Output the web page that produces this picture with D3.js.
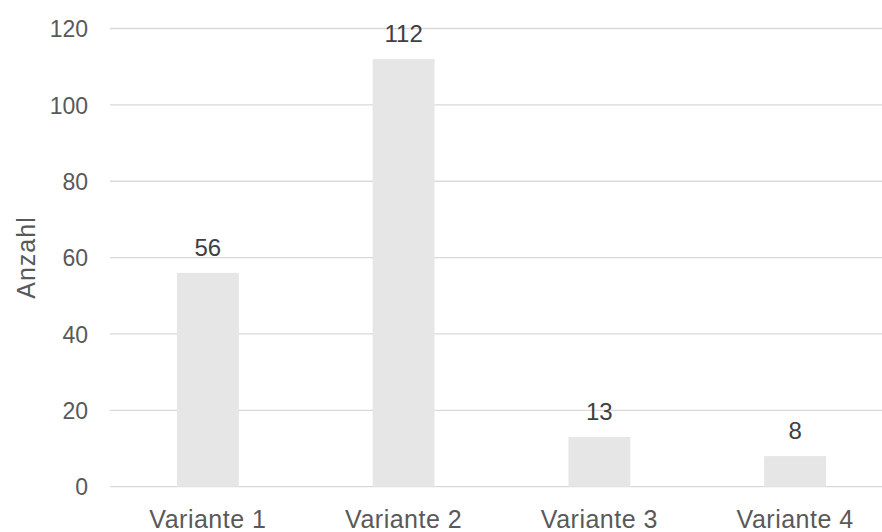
<!DOCTYPE html>
<html><head><meta charset="utf-8">
<script src="https://cdn.jsdelivr.net/npm/d3@7"></script>
<style>body{margin:0;background:#fff}svg{display:block}</style>
</head><body><svg id="c" width="882" height="532"></svg>
<script>
const categories = ["Variante 1","Variante 2","Variante 3","Variante 4"];
const values = [56,112,13,8];
const yTicks = [0,20,40,60,80,100,120];
const yLabel = "Anzahl";

const svg = d3.select("#c");
const font = "Liberation Sans, Arial, sans-serif";
const x = d3.scaleBand().domain(categories).range([110,893]).paddingInner(0.684).paddingOuter(0.342);
const y = d3.scaleLinear().domain([0,120]).range([486.7,28.5]);

// gridlines
svg.append("g").selectAll("line").data(yTicks).join("line")
  .attr("x1",110).attr("x2",882)
  .attr("y1",d=>y(d)).attr("y2",d=>y(d))
  .attr("stroke","#d9d9d9").attr("stroke-width",1.3);

// y axis labels
const yAxis = d3.axisLeft(y).tickValues(yTicks).tickSize(0).tickPadding(0);
const ga = svg.append("g").attr("transform","translate(88,0)").call(yAxis);
ga.select(".domain").remove();
ga.selectAll("text").attr("font-family",font).attr("font-size",23).attr("fill","#595959").attr("dy","0.36em");

// bars
svg.append("g").selectAll("rect").data(values).join("rect")
  .attr("x",(d,i)=>x(categories[i])).attr("width",x.bandwidth())
  .attr("y",d=>y(d)).attr("height",d=>y(0)-y(d))
  .attr("fill","#e6e6e6");

// value labels
svg.append("g").selectAll("text").data(values).join("text")
  .attr("x",(d,i)=>x(categories[i])+x.bandwidth()/2)
  .attr("y",d=>y(d)-17)
  .attr("text-anchor","middle").attr("font-family",font).attr("font-size",24).attr("fill","#404040")
  .text(d=>d);

// x axis labels
const xAxis = d3.axisBottom(x).tickSize(0).tickPadding(0);
const gx = svg.append("g").attr("transform","translate(0,528)").call(xAxis);
gx.select(".domain").remove();
gx.selectAll("text").attr("font-family",font).attr("font-size",25).attr("letter-spacing","0.5px").attr("fill","#595959").attr("dy","0");

// y label
svg.append("text").attr("transform","translate(35,257.5) rotate(-90)")
  .attr("text-anchor","middle").attr("font-family",font).attr("font-size",25).attr("letter-spacing","1px").attr("fill","#595959")
  .text(yLabel);
</script></body></html>
